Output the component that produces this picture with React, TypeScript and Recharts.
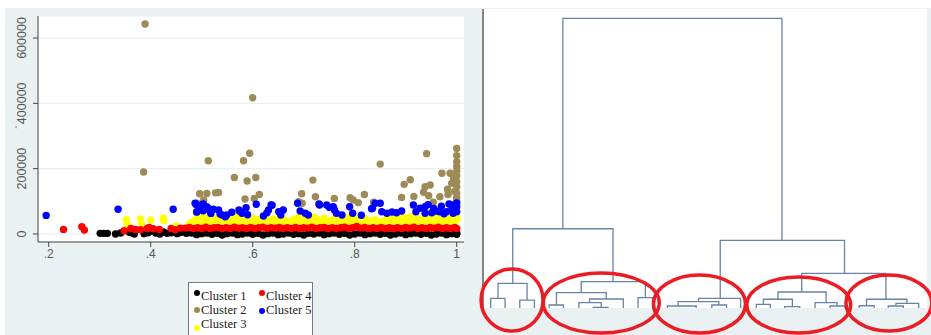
import React from "react";
import { ScatterChart, Scatter, XAxis, YAxis, CartesianGrid, Legend } from "recharts";

// ---- left panel: scatter of the five clusters (x = share, y = value) ----
type Pt = [number, number];

const xTicks = [0.2, 0.4, 0.6, 0.8, 1];
const yTicks = [0, 200000, 400000, 600000];

const cluster1: Pt[] = [
  [0.301, 2000], [0.308, 2000], [0.315, 2000], [0.331, 0], [0.341, 3000], [0.358, 5000],
  [0.364, 3000], [0.368, 0], [0.387, 1000], [0.395, 4000], [0.402, 9000], [0.41, 3000],
  [0.418, 0], [0.425, 6000], [0.432, 2000], [0.44, 4000], [0.447, 8000], [0.452, 1000],
  [0.46, 5000], [0.47, 2000], [0.48, 3000], [0.49, -2000], [0.5, 1000], [0.51, 3000], [0.52, -1000],
  [0.53, 2000], [0.54, -3000], [0.55, 1000], [0.56, 3000], [0.57, -2000], [0.58, 0], [0.59, 3000],
  [0.6, -1000], [0.61, 2000], [0.62, -3000], [0.63, 1000], [0.64, 3000], [0.65, -2000], [0.66, 0],
  [0.67, 3000], [0.68, -1000], [0.69, 1000], [0.7, -3000], [0.71, 2000], [0.72, 0], [0.73, 3000],
  [0.74, -2000], [0.75, 1000], [0.76, 3000], [0.77, -1000], [0.78, 2000], [0.79, -3000], [0.8, 0],
  [0.81, 3000], [0.82, -2000], [0.83, 1000], [0.84, 3000], [0.85, -1000], [0.86, 2000], [0.87, -3000],
  [0.88, 0], [0.89, 3000], [0.9, -2000], [0.91, 1000], [0.92, 3000], [0.93, -1000], [0.94, 2000],
  [0.95, -3000], [0.96, 0], [0.97, 3000], [0.98, -2000], [0.99, 1000], [1.0, -1000], [1.0, 3000],
];

const cluster2: Pt[] = [
  [0.386, 190000], [0.389, 643000], [0.491, 94000], [0.496, 123000], [0.504, 104000],
  [0.51, 124000], [0.513, 224000], [0.527, 126000], [0.533, 127000], [0.564, 173000],
  [0.582, 224000], [0.585, 107000], [0.589, 162000], [0.594, 247000], [0.6, 417000],
  [0.603, 109000], [0.606, 173000], [0.613, 121000], [0.69, 99000], [0.696, 123000],
  [0.697, 94000], [0.718, 165000], [0.723, 114000], [0.76, 109000], [0.791, 111000],
  [0.797, 104000], [0.807, 96000], [0.819, 121000], [0.837, 97000], [0.85, 214000],
  [0.892, 112000], [0.897, 152000], [0.909, 166000], [0.916, 115000], [0.935, 128000],
  [0.938, 145000], [0.941, 246000], [0.945, 117000], [0.948, 150000], [0.954, 97000],
  [0.967, 114000], [0.971, 186000], [0.982, 137000], [0.983, 121000], [0.987, 186000],
  [0.99, 155000], [0.994, 170000], [0.996, 130000], [1.0, 262000], [1.0, 240000],
  [1.0, 221000], [1.0, 206000], [1.0, 192000], [1.0, 178000], [1.0, 160000], [1.0, 145000],
  [1.0, 125000], [1.0, 110000], [1.0, 100000],
];

const cluster3: Pt[] = [
  [0.352, 43000], [0.354, 30000], [0.38, 46000], [0.382, 31000], [0.4, 43000], [0.425, 48000],
  [0.426, 41000], [0.45, 24500], [0.476, 30600],
  [0.482, 38000], [0.49, 50000], [0.5, 52000], [0.51, 47000], [0.52, 54000], [0.53, 48000],
  [0.54, 51000], [0.55, 44000], [0.56, 49000], [0.57, 52000], [0.58, 46000], [0.59, 53000],
  [0.6, 48000], [0.61, 44000], [0.62, 50000], [0.63, 42000], [0.64, 47000], [0.65, 40000],
  [0.66, 45000], [0.67, 38000], [0.68, 46000], [0.69, 50000], [0.7, 42000], [0.71, 47000],
  [0.72, 52000], [0.73, 44000], [0.74, 48000], [0.75, 40000], [0.76, 46000], [0.77, 43000],
  [0.78, 49000], [0.79, 51000], [0.8, 46000], [0.81, 42000], [0.82, 47000], [0.83, 40000],
  [0.84, 44000], [0.85, 38000], [0.86, 43000], [0.87, 47000], [0.88, 50000], [0.89, 52000],
  [0.9, 48000], [0.91, 53000], [0.92, 50000], [0.93, 46000], [0.94, 52000], [0.95, 48000],
  [0.96, 53000], [0.97, 47000], [0.98, 51000], [0.99, 49000], [1.0, 53000], [1.0, 44000],
  [0.487, 33000], [0.497, 28000], [0.506, 35000], [0.515, 30000], [0.525, 34000], [0.535, 29000],
  [0.545, 33000], [0.555, 28000], [0.565, 34000], [0.575, 31000], [0.585, 28000], [0.595, 34000],
  [0.605, 30000], [0.615, 33000], [0.625, 28000], [0.635, 32000], [0.645, 29000], [0.655, 33000],
  [0.665, 27000], [0.675, 31000], [0.685, 30000], [0.695, 34000], [0.705, 29000], [0.715, 33000],
  [0.725, 28000], [0.735, 34000], [0.745, 30000], [0.755, 27000], [0.765, 32000], [0.775, 29000],
  [0.785, 34000], [0.795, 30000], [0.805, 33000], [0.815, 28000], [0.825, 31000], [0.835, 27000],
  [0.845, 32000], [0.855, 29000], [0.865, 33000], [0.875, 30000], [0.885, 34000], [0.895, 31000],
  [0.905, 35000], [0.915, 30000], [0.925, 34000], [0.935, 31000], [0.945, 35000], [0.955, 32000],
  [0.965, 36000], [0.975, 31000], [0.985, 35000], [0.995, 32000],
];

const cluster4: Pt[] = [
  [0.229, 14000], [0.265, 22000], [0.27, 12000], [0.348, 10000], [0.361, 17000], [0.37, 14000],
  [0.38, 13000], [0.393, 17000], [0.397, 20000], [0.405, 16000], [0.417, 14000], [0.44, 17000],
  [0.448, 13000], [0.458, 18000],
  [0.468, 18000], [0.476, 20000], [0.484, 17000], [0.492, 19000], [0.5, 17000], [0.508, 21000],
  [0.516, 17000], [0.524, 19000], [0.532, 20000], [0.54, 17000], [0.548, 19000], [0.556, 17000],
  [0.564, 21000], [0.572, 18000], [0.58, 19000], [0.588, 17000], [0.596, 20000], [0.604, 17000],
  [0.612, 19000], [0.62, 21000], [0.628, 17000], [0.636, 19000], [0.644, 18000], [0.652, 20000],
  [0.66, 17000], [0.668, 19000], [0.676, 17000], [0.684, 20000], [0.692, 17000], [0.7, 19000],
  [0.708, 18000], [0.716, 21000], [0.724, 17000], [0.732, 19000], [0.74, 20000], [0.748, 17000],
  [0.756, 19000], [0.764, 17000], [0.772, 19000], [0.78, 21000], [0.788, 17000], [0.796, 19000],
  [0.804, 23000], [0.812, 18000], [0.82, 20000], [0.828, 17000], [0.836, 19000], [0.844, 17000],
  [0.852, 20000], [0.86, 17000], [0.868, 19000], [0.876, 17000], [0.884, 19000], [0.892, 17000],
  [0.9, 20000], [0.908, 18000], [0.916, 21000], [0.924, 17000], [0.932, 19000], [0.94, 17000],
  [0.948, 20000], [0.956, 18000], [0.964, 21000], [0.972, 17000], [0.98, 19000], [0.988, 17000],
  [0.996, 20000], [1.0, 17000],
];

const cluster5: Pt[] = [
  [0.195, 57000], [0.336, 75600], [0.444, 75600],
  [0.487, 94000], [0.489, 90000], [0.49, 67500], [0.491, 68000], [0.497, 83500], [0.5, 88800],
  [0.503, 92000], [0.503, 71000], [0.504, 73500], [0.51, 83600], [0.513, 78500], [0.517, 68300],
  [0.518, 63000], [0.523, 75600], [0.533, 73500], [0.536, 61000], [0.54, 58200], [0.546, 53000],
  [0.549, 58200], [0.559, 66400], [0.573, 73500], [0.574, 70400], [0.579, 63400], [0.587, 80500],
  [0.59, 59000], [0.607, 90900], [0.621, 55000], [0.628, 65200], [0.631, 73500], [0.636, 89000],
  [0.638, 87800], [0.651, 68300], [0.655, 58200], [0.66, 73500], [0.688, 94000], [0.693, 70400],
  [0.703, 63400], [0.709, 58200], [0.73, 92000], [0.731, 88800], [0.745, 88800], [0.75, 82000],
  [0.758, 83600], [0.76, 74000], [0.764, 63400], [0.775, 58200], [0.79, 83600], [0.796, 63400],
  [0.813, 57200], [0.833, 77500], [0.835, 78700], [0.84, 94000], [0.85, 94000], [0.853, 68300],
  [0.863, 63400], [0.873, 67300], [0.882, 65200], [0.892, 70400], [0.915, 88800], [0.92, 68000],
  [0.928, 78700], [0.938, 83600], [0.938, 63400], [0.944, 90000], [0.951, 65200], [0.955, 78000],
  [0.96, 70000], [0.967, 68300], [0.97, 85000], [0.975, 62000], [0.98, 68300], [0.985, 92000],
  [0.99, 88800], [0.99, 72000], [0.993, 63400], [0.997, 73500], [1.0, 83600], [1.0, 95000],
  [1.0, 68000],
];

const SERIES = [
  { name: "Cluster 1", color: "#000000", data: cluster1 },
  { name: "Cluster 2", color: "#9e8a56", data: cluster2 },
  { name: "Cluster 3", color: "#ffff00", data: cluster3 },
  { name: "Cluster 4", color: "#ff0000", data: cluster4 },
  { name: "Cluster 5", color: "#0000ff", data: cluster5 },
];

// ---- right panel: dendrogram ----
// [left x, right x, merge height, left child height, right child height]
const links: [number, number, number, number, number][] = [
  [79.7, 298.3, 4.214, 1.153, 0.985],
  [29.7, 129.7, 1.153, 0.359, 0.383],
  [236.7, 360.7, 0.985, 0.141, 0.505],
  [15, 44, 0.359, 0.141, 0.116],
  [7.7, 22, 0.141, 0, 0],
  [36.7, 51.3, 0.116, 0, 0],
  [98, 162, 0.383, 0.223, 0.15],
  [73.3, 123, 0.223, 0.044, 0.131],
  [66, 80.3, 0.044, 0, 0],
  [106.3, 140, 0.131, 0.077, 0],
  [95.7, 118, 0.077, 0, 0.01],
  [110, 124.7, 0.01, 0, 0],
  [154.7, 169.3, 0.15, 0, 0],
  [215, 257, 0.141, 0.092, 0],
  [194.7, 235.3, 0.092, 0.029, 0.044],
  [184, 212.7, 0.029, 0, 0],
  [228.3, 243, 0.044, 0, 0],
  [318, 402, 0.505, 0.233, 0.127],
  [294.3, 342.3, 0.233, 0.127, 0.077],
  [279.7, 308.7, 0.127, 0.054, 0.019],
  [272.7, 286.7, 0.054, 0, 0],
  [301, 316, 0.019, 0, 0],
  [331.3, 353.3, 0.077, 0, 0.029],
  [346.3, 361, 0.029, 0, 0],
  [382.7, 423, 0.127, 0.033, 0.068],
  [375.3, 390.3, 0.033, 0, 0],
  [412, 434.7, 0.068, 0.029, 0],
  [404.3, 419.3, 0.029, 0, 0],
];
const dendroTicks = [0, 1, 2, 3, 4];

// circled groups (centres, on the dendrogram's axes)
const groupCentres: Pt[] = [[29, 0.116], [118, 0.073], [216, 0.058], [315, 0.044], [405, 0.073]];
const groupRadii = [[31, 31], [58, 30], [46, 29], [52, 28], [43, 28]];

const BG = "#e9f1f3";
const SANS = "'Liberation Sans', Arial, sans-serif";
const SERIF = "'Liberation Serif', 'Times New Roman', serif";

const toPoints = (arr: Pt[]) => arr.map(([x, y]) => ({ x, y }));
const linkPoints = (l: number[]) => [
  { x: l[0], y: l[3] },
  { x: l[0], y: l[2] },
  { x: l[1], y: l[2] },
  { x: l[1], y: l[4] },
];

const fmtX = (v: number) => (v === 1 ? "1" : String(v).replace("0.", "."));

const YTick = ({ x, y, payload }: any) => (
  <text
    x={x - 5}
    y={y}
    transform={`rotate(-90 ${x - 5} ${y})`}
    textAnchor="middle"
    fontSize={12.5}
    fontFamily={SANS}
    fill="#555"
  >
    {payload.value}
  </text>
);

const markerShift = [-3, 0, 4, -3, 1];

const renderLegend = (props: any) => {
  const items = props.payload || [];
  return (
    <div
      style={{
        background: "#fff",
        border: "1px solid #7a7a7a",
        width: 125,
        height: 70,
        boxSizing: "border-box",
        padding: "6px 0 0 5px",
        display: "grid",
        gridTemplateColumns: "65px 58px",
        gridTemplateRows: "14px 14px 14px",
        gridAutoFlow: "column",
        fontFamily: SERIF,
        fontSize: 12.5,
        color: "#222",
      }}
    >
      {items.map((it: any, i: number) => (
        <div key={i} style={{ display: "flex", alignItems: "center", whiteSpace: "nowrap", lineHeight: "14px" }}>
          <span
            style={{
              display: "inline-block",
              width: 6,
              height: 6,
              borderRadius: 3,
              background: it.color,
              marginRight: 1,
              position: "relative",
              top: markerShift[i] || 0,
            }}
          />
          {it.value}
        </div>
      ))}
    </div>
  );
};

const Blank = () => <g />;

export default function App() {
  return (
    <div style={{ position: "absolute", left: 0, top: 0, width: 931, height: 335, overflow: "hidden", background: "#fff" }}>
      <style>{"body{margin:0}"}</style>
      <div style={{ position: "absolute", left: 5, top: 8, width: 926, height: 327, background: BG }} />

      <div style={{ position: "absolute", left: 5, top: 8 }}>
        <ScatterChart width={478} height={327} margin={{ top: 8, right: 19, bottom: 63, left: 0 }}>
          <CartesianGrid vertical={false} stroke="#e4edf0" fill="#fff" />
          <XAxis
            type="number"
            dataKey="x"
            domain={[0.179, 1.0143]}
            allowDataOverflow
            ticks={xTicks}
            tickFormatter={fmtX}
            height={30}
            tickSize={5}
            tickMargin={2}
            stroke="#444"
            tick={{ fill: "#555", fontSize: 12, fontFamily: SANS }}
          />
          <YAxis
            type="number"
            dataKey="y"
            domain={[-24500, 667300]}
            allowDataOverflow
            ticks={yTicks}
            width={33}
            tickSize={5}
            tickMargin={2}
            stroke="#444"
            tick={<YTick />}
            label={{ value: "'", position: "insideLeft", offset: 10, fill: "#555", fontSize: 11 }}
          />
          {SERIES.map((s) => (
            <Scatter
              key={s.name}
              name={s.name}
              data={toPoints(s.data)}
              fill={s.color}
              isAnimationActive={false}
              shape={(p: any) => <circle cx={p.cx} cy={p.cy} r={3.7} fill={s.color} />}
            />
          ))}
          <Legend
            layout="horizontal"
            verticalAlign="middle"
            align="center"
            content={renderLegend}
            wrapperStyle={{ left: 183, top: 274, width: 125, height: 70 }}
          />
        </ScatterChart>
      </div>

      <div style={{ position: "absolute", left: 439, top: 0 }}>
        <ScatterChart width={492} height={335} margin={{ top: 9, right: 4, bottom: 27, left: 0 }}>
          <CartesianGrid horizontal={false} vertical={false} fill="#fff" />
          <XAxis type="number" dataKey="x" domain={[0, 443]} hide />
          <YAxis
            type="number"
            dataKey="y"
            domain={[0, 4.35]}
            ticks={dendroTicks}
            width={44}
            tick={false}
            tickSize={5}
            axisLine={{ stroke: "#111" }}
            tickLine={{ stroke: "#777" }}
          />
          {links.map((l, i) => (
            <Scatter
              key={`link-${i}`}
              data={linkPoints(l)}
              line={{ stroke: "#6883a3", strokeWidth: 1.3 }}
              lineType="joint"
              shape={<Blank />}
              isAnimationActive={false}
            />
          ))}
          {groupCentres.map((c, i) => (
            <Scatter
              key={`group-${i}`}
              data={toPoints([c])}
              isAnimationActive={false}
              shape={(p: any) => (
                <ellipse
                  cx={p.cx}
                  cy={p.cy}
                  rx={groupRadii[i][0]}
                  ry={groupRadii[i][1]}
                  fill="none"
                  stroke="#ec1c24"
                  strokeWidth={3.5}
                />
              )}
            />
          ))}
        </ScatterChart>
      </div>
    </div>
  );
}
